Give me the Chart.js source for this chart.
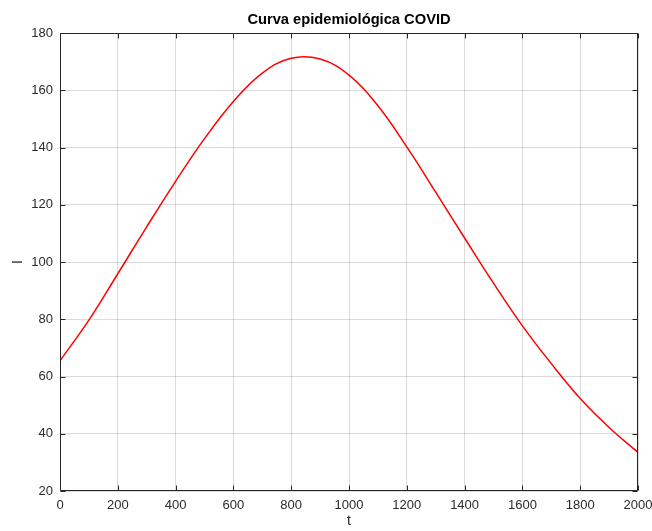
<!DOCTYPE html>
<html><head><meta charset="utf-8">
<script src="https://cdn.jsdelivr.net/npm/chart.js@4/dist/chart.umd.min.js"></script>
<style>html,body{margin:0;padding:0;background:#fff}canvas{display:block}</style>
</head><body>
<canvas id="c" width="652" height="531"></canvas>
<script>
const titleText = "Curva epidemiológica COVID";
const xLabel = "t";
const yLabel = "I";
const tValues = [0,100,200,300,400,500,600,700,800,900,1000,1100,1200,1300,1400,1500,1600,1700,1800,1900,2000];
const iValues = [65.5,79.7,95.9,112.3,128.2,143.1,156.1,166.0,171.2,170.9,165.3,154.6,140.2,124.4,108.4,92.6,77.7,64.5,52.3,42.2,33.5];
const xTicks = [0,200,400,600,800,1000,1200,1400,1600,1800,2000];
const yTicks = [20,40,60,80,100,120,140,160,180];

Chart.defaults.font.family = '"Liberation Sans", Arial, Helvetica, sans-serif';

const frame = {
  id: 'frame',
  afterDatasetsDraw(chart) {
    const {ctx, chartArea: a, scales} = chart;
    ctx.save();
    ctx.strokeStyle = '#262626';
    ctx.lineWidth = 1;
    const L = Math.round(a.left) + 0.5, R = Math.round(a.right) - 0.5;
    const T = Math.round(a.top) + 0.5, B = Math.round(a.bottom) - 0.5;
    ctx.beginPath();
    ctx.rect(L, T, R - L, B - T);
    const tl = 5;
    xTicks.forEach(v => {
      const px = Math.round(scales.x.getPixelForValue(v)) + 0.5;
      ctx.moveTo(px, B); ctx.lineTo(px, B - tl);
      ctx.moveTo(px, T); ctx.lineTo(px, T + tl);
    });
    yTicks.forEach(v => {
      const py = Math.round(scales.y.getPixelForValue(v)) + 0.5;
      ctx.moveTo(L, py); ctx.lineTo(L + tl, py);
      ctx.moveTo(R, py); ctx.lineTo(R - tl, py);
    });
    ctx.stroke();
    ctx.restore();
  }
};

new Chart(document.getElementById('c'), {
  type: 'line',
  data: {
    datasets: [{
      data: tValues.map((t, i) => ({x: t, y: iValues[i]})),
      borderColor: '#ff0000',
      borderWidth: 1.5,
      pointRadius: 0,
      tension: 0.4,
      fill: false
    }]
  },
  options: {
    responsive: false,
    animation: false,
    devicePixelRatio: 1,
    layout: {padding: {left: 0, right: 14, top: 0, bottom: 0}},
    plugins: {
      legend: {display: false},
      tooltip: {enabled: false},
      title: {
        display: true,
        text: titleText,
        fullSize: false,
        color: '#000',
        font: {size: 14.7, weight: 'bold'},
        padding: {top: 11, bottom: 4.4}
      }
    },
    scales: {
      x: {
        type: 'linear',
        min: 0, max: 2000,
        afterBuildTicks: s => { s.ticks = xTicks.map(v => ({value: v})); },
        ticks: {color: '#2b2b2b', font: {size: 13}, padding: 7, maxRotation: 0, autoSkip: false,
                callback: v => String(v)},
        grid: {color: 'rgba(0,0,0,0.14)', drawTicks: false},
        border: {display: false},
        title: {display: true, text: xLabel, color: '#222', font: {size: 14}, padding: {top: 0, bottom: 1}},
        afterFit: s => { s.height = 40; s.paddingLeft = 0; s.paddingRight = 0; }
      },
      y: {
        type: 'linear',
        min: 20, max: 180,
        afterBuildTicks: s => { s.ticks = yTicks.map(v => ({value: v})); },
        ticks: {color: '#2b2b2b', font: {size: 13}, padding: 7, callback: v => String(v)},
        grid: {color: 'rgba(0,0,0,0.14)', drawTicks: false},
        border: {display: false},
        title: {display: true, text: yLabel, color: '#222', font: {size: 14}, padding: {top: 10, bottom: 0}},
        afterFit: s => { s.width = 60; s.paddingTop = 0; s.paddingBottom = 0; }
      }
    }
  },
  plugins: [frame]
});
</script>
</body></html>
